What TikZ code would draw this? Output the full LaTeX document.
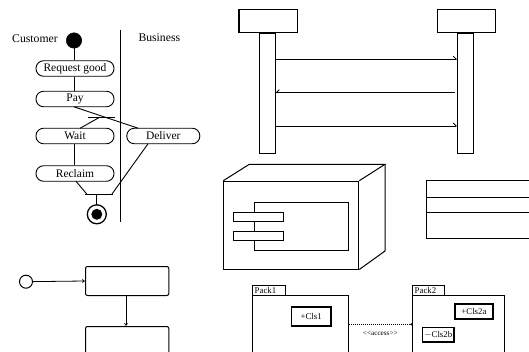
\documentclass[tikz,border=0pt]{standalone}
\usepackage{fontspec}
\setmainfont{Liberation Serif}
\usetikzlibrary{arrows.meta}
\begin{document}
\begin{tikzpicture}[x=1pt,y=-1pt,
  ln/.style={line width=0.9pt},
  act/.style={draw, line width=0.9pt, rounded corners=7.5pt, minimum width=78pt, minimum height=15.5pt, inner sep=0pt, font=\fontsize{11.5}{12}\selectfont},
  rbox/.style={draw, line width=1pt, inner sep=0pt, anchor=north west},
  lab/.style={inner sep=0pt, font=\fontsize{11.7}{12}\selectfont},
  tiny/.style={inner sep=0pt, font=\fontsize{8.8}{9}\selectfont},
  msgR/.style={line width=0.9pt, -{Straight Barb[harpoon, length=3pt, width=6pt]}},
  msgL/.style={line width=0.9pt, -{Straight Barb[harpoon, swap, length=3pt, width=6pt]}},
  small/.style={line width=0.8pt, -{Straight Barb[length=2pt, width=3pt]}}
]
\useasboundingbox (0,0) rectangle (529,352);
% ---------------- activity diagram ----------------
\node[lab, anchor=west] (cust) at (12,39) {Customer};
\node[lab, anchor=west] (bus) at (138.3,38) {Business};
\node[circle, fill=black, draw, minimum size=15.5pt, inner sep=0pt] (init) at (74,40.5) {};
\coordinate (laneT) at (120.5,30);
\coordinate (laneB) at (120.5,222);
\draw[line width=1.1pt] (laneT) -- (laneB);
\node[act] (req) at (75,68.5) {Request good};
\node[act] (pay) at (75,99) {Pay};
\node[act] (wait) at (75,136) {Wait};
\node[act] (recl) at (75,173.5) {Reclaim};
\node[act, minimum width=73pt] (deliv) at (163.3,136) {Deliver};
\draw[ln] (init) -- (init |- req.north);
\draw[ln] (req.south -| init) -- (pay.north -| init);
% fork
\coordinate (forkL) at (88,117.6);
\coordinate (forkR) at (115,117.6);
\coordinate (forkM) at (99,117.6);
\draw[ln] (forkL) -- (forkR);
\coordinate (payOut) at (74,106.8);
\coordinate (delIn) at (138.3,128.3);
\coordinate (waitIn) at (80,128.3);
\draw[ln] (payOut) -- (delIn);
\draw[ln] (forkM) -- (waitIn);
\draw[ln] (wait.south -| init) -- (recl.north -| init);
% join
\coordinate (joinL) at (85,194.3);
\coordinate (joinR) at (113.3,194.3);
\coordinate (joinM) at (96.8,194.3);
\draw[ln] (joinL) -- (joinR);
\coordinate (reclOut) at (76,181.3);
\coordinate (delOut) at (148,143.8);
\coordinate (joinIn1) at (87,194.3);
\coordinate (joinIn2) at (111.8,194.3);
\draw[ln] (reclOut) -- (joinIn1);
\draw[ln] (delOut) -- (joinIn2);
\node[circle, draw, line width=1.3pt, minimum size=19pt, inner sep=0pt] (fin) at (96.8,214.3) {};
\node[circle, fill=black, minimum size=11pt, inner sep=0pt] (finc) at (fin) {};
\draw[ln] (joinM) -- (fin.north);
% ---------------- sequence diagram ----------------
\node[rbox, line width=1.2pt, minimum width=58.4pt, minimum height=22.4pt] (headL) at (238.3,9.3) {};
\node[rbox, line width=1.2pt, minimum width=58.3pt, minimum height=22.4pt] (headR) at (436.7,9.3) {};
\node[rbox, minimum width=16pt, minimum height=120pt] (actL) at (259.3,32.7) {};
\node[rbox, minimum width=16pt, minimum height=120pt] (actR) at (457.3,32.7) {};
\coordinate (m1s) at (275.3,59.3);
\coordinate (m1e) at (457.3,59.3);
\coordinate (m2s) at (455,92.7);
\coordinate (m2e) at (275.3,92.7);
\coordinate (m3s) at (275.3,126);
\coordinate (m3e) at (457.3,126);
\draw[msgR] (m1s) -- (m1e);
\draw[msgL] (m2s) -- (m2e);
\draw[msgR] (m3s) -- (m3e);
% ---------------- deployment node ----------------
\node[rbox, minimum width=135pt, minimum height=87.8pt] (front) at (223.3,180.7) {};
\coordinate (bTL) at (249.3,164.3);
\coordinate (bTR) at (385,164.3);
\coordinate (bBR) at (385,251);
\draw[line width=1pt, line join=miter] (front.north west) -- (bTL) -- (bTR) -- (front.north east);
\draw[line width=1pt] (bTR) -- (bBR) -- (front.south east);
\node[rbox, minimum width=94pt, minimum height=47.7pt] (comp) at (254.3,202.3) {};
\node[rbox, fill=white, minimum width=50pt, minimum height=9.3pt] (port1) at (233.3,211.7) {};
\node[rbox, fill=white, minimum width=50pt, minimum height=9.3pt] (port2) at (233.3,230.7) {};
% ---------------- class box ----------------
\coordinate (cTL) at (426.7,181);
\coordinate (cBL) at (426.7,238.3);
\coordinate (cTR) at (531,181);
\coordinate (cBR) at (531,238.3);
\draw[line width=1pt] (cTR) -- (cTL) -- (cBL) -- (cBR);
\coordinate (c1L) at (426.7,197.7);
\coordinate (c1R) at (531,197.7);
\coordinate (c2L) at (426.7,212.3);
\coordinate (c2R) at (531,212.3);
\draw[line width=1pt] (c1L) -- (c1R);
\draw[line width=1pt] (c2L) -- (c2R);
% ---------------- state diagram ----------------
\node[circle, draw, line width=1pt, minimum size=13pt, inner sep=0pt] (sinit) at (26,281.7) {};
\node[rbox, rounded corners=2pt, minimum width=83.3pt, minimum height=29pt] (st1) at (85,266) {};
\node[rbox, rounded corners=2pt, minimum width=83.3pt, minimum height=34pt] (st2) at (85,326) {};
\draw[small] (sinit) -- (st1.west);
\draw[small] (st1.south -| 126,0) -- (st2.north -| 126,0);
% ---------------- packages ----------------
\node[rbox, minimum width=32.7pt, minimum height=10pt] (p1tab) at (252.3,285) {};
\node[tiny, anchor=west] (p1lab) at (254.5,290.4) {Pack1};
\node[rbox, minimum width=96pt, minimum height=70pt] (p1) at (252.3,295) {};
\node[rbox, line width=1.6pt, minimum width=39.3pt, minimum height=19pt] (cls1) at (290.7,306) {};
\node[tiny] (cls1lab) at (cls1) {+Cls1};
\node[rbox, minimum width=31.7pt, minimum height=10pt] (p2tab) at (412.3,285) {};
\node[tiny, anchor=west] (p2lab) at (414.5,290.4) {Pack2};
\node[rbox, minimum width=91.7pt, minimum height=70pt] (p2) at (412.3,295) {};
\node[rbox, line width=1.6pt, minimum width=38.3pt, minimum height=15pt] (cls2a) at (454,303.3) {};
\node[tiny] (cls2alab) at (cls2a) {+Cls2a};
\node[rbox, line width=1.6pt, minimum width=31.6pt, minimum height=14.3pt] (cls2b) at (421.7,326.7) {};
\node[tiny] (cls2blab) at (cls2b) {$-$Cls2b};
\draw[line width=1pt, densely dotted, -{Circle[length=2pt]}] (p1.east |- 0,324.3) -- (p2.west |- 0,324.3);
\node[tiny, font=\fontsize{7.2}{8}\selectfont] (acc) at (380.3,333.5) {\textless\kern0pt\textless\kern0pt access\textgreater\kern0pt\textgreater};
\end{tikzpicture}
\end{document}
